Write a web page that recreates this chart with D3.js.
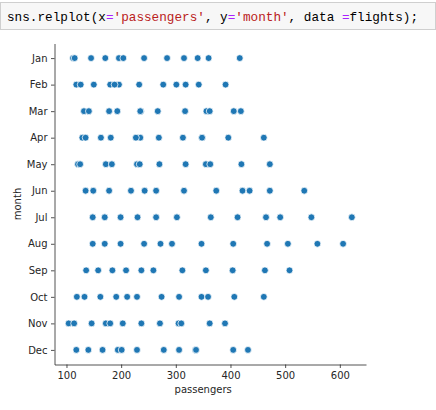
<!DOCTYPE html>
<html><head><meta charset="utf-8">
<script src="https://cdn.jsdelivr.net/npm/d3@7"></script>
<style>body{margin:0;background:#fff;} svg{display:block;}</style>
</head><body>
<svg id="c" width="436" height="410"></svg>
<script>
const months = ["Jan","Feb","Mar","Apr","May","Jun","Jul","Aug","Sep","Oct","Nov","Dec"];
const jan = [112,115,145,171,196,204,242,284,315,340,360,417];
const feb = [118,126,150,180,196,188,233,277,301,318,342,391];
const mar = [132,141,178,193,236,235,267,317,356,362,406,419];
const apr = [129,135,163,181,235,227,269,313,348,348,396,461];
const may = [121,125,172,183,229,234,270,318,355,363,420,472];
const jun = [135,149,178,218,243,264,315,374,422,435,472,535];
const jul = [148,170,199,230,264,302,364,413,465,491,548,622];
const aug = [148,170,199,242,272,293,347,405,467,505,559,606];
const sep = [136,158,184,209,237,259,312,355,404,404,463,508];
const oct = [119,133,162,191,211,229,274,306,347,359,407,461];
const nov = [104,114,146,172,180,203,237,271,305,310,362,390];
const dec = [118,140,166,194,201,229,278,306,336,337,405,432];
const xTicks = [100,200,300,400,500,600];
const passengersByMonth = [jan,feb,mar,apr,may,jun,jul,aug,sep,oct,nov,dec];

const svg = d3.select("#c");

// code cell
svg.append("rect").attr("x",0.5).attr("y",2.5).attr("width",435).attr("height",27)
  .attr("fill","#f7f7f7").attr("stroke","#cfcfcf");
const code = svg.append("text").attr("x",7).attr("y",21)
  .attr("font-family","'Liberation Mono','DejaVu Sans Mono',monospace").attr("font-size","12.7px")
  .attr("textLength",411).attr("lengthAdjust","spacingAndGlyphs");
const parts = [["sns.relplot(x","#000"],["=","#aa22ff"],["'passengers'","#ba2121"],[", y","#000"],["=","#aa22ff"],["'month'","#ba2121"],[", data ","#000"],["=","#aa22ff"],["flights);","#000"]];
parts.forEach(p=>code.append("tspan").attr("fill",p[1]).text(p[0]));

const points = [];
months.forEach((m,i)=>passengersByMonth[i].forEach(v=>points.push({m,v})));

const all = points.map(d=>d.v);
const lo = d3.min(all), hi = d3.max(all), pad = (hi-lo)*0.05;
const x = d3.scaleLinear().domain([lo-pad, hi+pad]).range([54.5, 366]);
const yIdx = d3.scaleLinear().domain([-0.55, 11.55]).range([43.5, 364.5]);
const y = m => yIdx(months.indexOf(m));

const font = "'DejaVu Sans',sans-serif";

// axes
const xAxis = svg.append("g").attr("transform","translate(0,364.5)")
  .call(d3.axisBottom(x).tickValues(xTicks).tickSize(3.5).tickPadding(3.5).tickSizeOuter(0));
const yAxis = svg.append("g").attr("transform","translate(54.5,0)")
  .call(d3.axisLeft(yIdx).tickValues(d3.range(12)).tickFormat(i=>months[i]).tickSize(3.5).tickPadding(3.5).tickSizeOuter(0));
[xAxis,yAxis].forEach(a=>{
  a.selectAll("text").attr("font-family",font).attr("font-size","10px").attr("fill","#262626");
  a.selectAll("line").attr("stroke","#262626").attr("stroke-width",0.8);
  a.select(".domain").attr("stroke","#262626").attr("stroke-width",0.8);
});

svg.append("text").attr("x",x(350)).attr("y",393).attr("text-anchor","middle")
  .attr("font-family",font).attr("font-size","10px").attr("fill","#262626").text("passengers");
svg.append("text").attr("transform","translate(21,"+((43.5+364.5)/2)+") rotate(-90)").attr("text-anchor","middle")
  .attr("font-family",font).attr("font-size","10px").attr("fill","#262626").text("month");

svg.append("g").selectAll("circle").data(points).join("circle")
  .attr("cx",d=>x(d.v)).attr("cy",d=>y(d.m)).attr("r",3.4)
  .attr("fill","#1f77b4").attr("stroke","#fff").attr("stroke-width",0.75);
</script>
</body></html>
